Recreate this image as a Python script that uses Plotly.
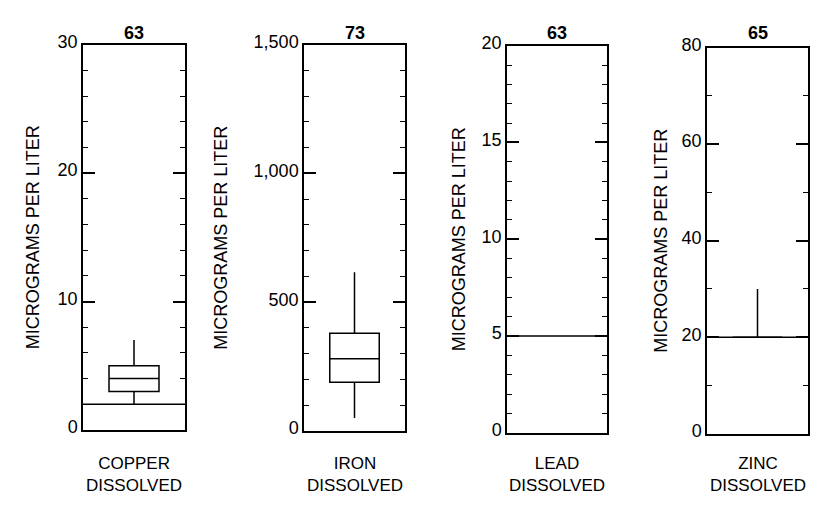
import plotly.graph_objects as go

W, H = 839, 510

# ---- data ----
constituents = ["COPPER", "IRON", "LEAD", "ZINC"]
sample_counts = [63, 73, 63, 65]
q1_vals = [3, 189, None, 20]
median_vals = [4, 280, None, 20]
q3_vals = [5, 379, None, 20]
lower_whisker = [2, 50, None, 20]
upper_whisker = [7, 616, None, 30]
reporting_limits = [2, None, 5, 20]
y_max = [30, 1500, 20, 80]
major_step = [10, 500, 5, 20]
minor_step = [2, 100, 1, 10]
tick_formats = ["d", ",d", "d", "d"]

# ---- layout geometry (pixels) ----
panels_px = [(83, 185, 33, 434), (304, 405, 33, 435), (507, 607, 34, 437), (707, 808, 36, 438)]
ytitle_x = [33, 221, 459, 661]

FONT = "Liberation Sans, Arial, Helvetica, sans-serif"
fig = go.Figure()
annotations = []

for i, name in enumerate(constituents):
    n = "" if i == 0 else str(i + 1)
    xa, ya = "x" + n, "y" + n
    x0, x1, y0, y1 = panels_px[i]
    if q1_vals[i] is not None:
        fig.add_trace(go.Box(
            x=[0], q1=[q1_vals[i]], median=[median_vals[i]], q3=[q3_vals[i]],
            lowerfence=[lower_whisker[i]], upperfence=[upper_whisker[i]],
            width=0.49, whiskerwidth=0, boxpoints=False,
            line=dict(color="black", width=1.5), fillcolor="rgba(0,0,0,0)",
            xaxis=xa, yaxis=ya, showlegend=False, hoverinfo="skip"))
    if reporting_limits[i] is not None:
        fig.add_trace(go.Scatter(
            x=[-0.5, 0.5], y=[reporting_limits[i]] * 2, mode="lines",
            line=dict(color="black", width=1.5), xaxis=xa, yaxis=ya,
            showlegend=False, hoverinfo="skip", cliponaxis=False))
    fig.layout["xaxis" + n] = dict(
        domain=[x0 / W, x1 / W], range=[-0.5, 0.5], showticklabels=False,
        ticks="", showgrid=False, zeroline=False, showline=True, mirror=True,
        linecolor="black", linewidth=1.5, anchor=ya, fixedrange=True)
    fig.layout["yaxis" + n] = dict(
        domain=[1 - y1 / H, 1 - y0 / H], range=[0, y_max[i]],
        dtick=major_step[i], tick0=0, tickformat=tick_formats[i],
        ticks="inside", ticklen=12, tickwidth=1.5, tickcolor="black",
        minor=dict(dtick=minor_step[i], tick0=0, ticks="inside", ticklen=5,
                   tickwidth=1, tickcolor="black"),
        showgrid=False, zeroline=False, showline=True, mirror="allticks",
        linecolor="black", linewidth=1.5, anchor=xa, ticklabelshift=-3,
        tickfont=dict(family=FONT, size=18, color="black"), fixedrange=True)
    cx = (x0 + x1) / 2
    annotations.append(dict(x=cx / W, y=1 - 21 / H, xref="paper", yref="paper",
                            text="<b>%d</b>" % sample_counts[i], showarrow=False,
                            xanchor="center", yanchor="middle",
                            font=dict(family=FONT, size=18, color="black")))
    annotations.append(dict(x=ytitle_x[i] / W, y=1 - ((y0 + y1) / 2) / H,
                            xref="paper", yref="paper", text="MICROGRAMS PER LITER",
                            textangle=-90, showarrow=False, xanchor="center",
                            yanchor="middle",
                            font=dict(family=FONT, size=18, color="black")))
    annotations.append(dict(x=cx / W, y=1 - 480.5 / H, xref="paper", yref="paper",
                            text=name + "<br>DISSOLVED", showarrow=False,
                            xanchor="center", yanchor="middle", align="center",
                            font=dict(family=FONT, size=17, color="black")))

fig.update_layout(width=W, height=H, margin=dict(l=0, r=0, t=0, b=0),
                  paper_bgcolor="white", plot_bgcolor="white",
                  annotations=annotations, font=dict(family=FONT))
fig.write_html("out.html")
